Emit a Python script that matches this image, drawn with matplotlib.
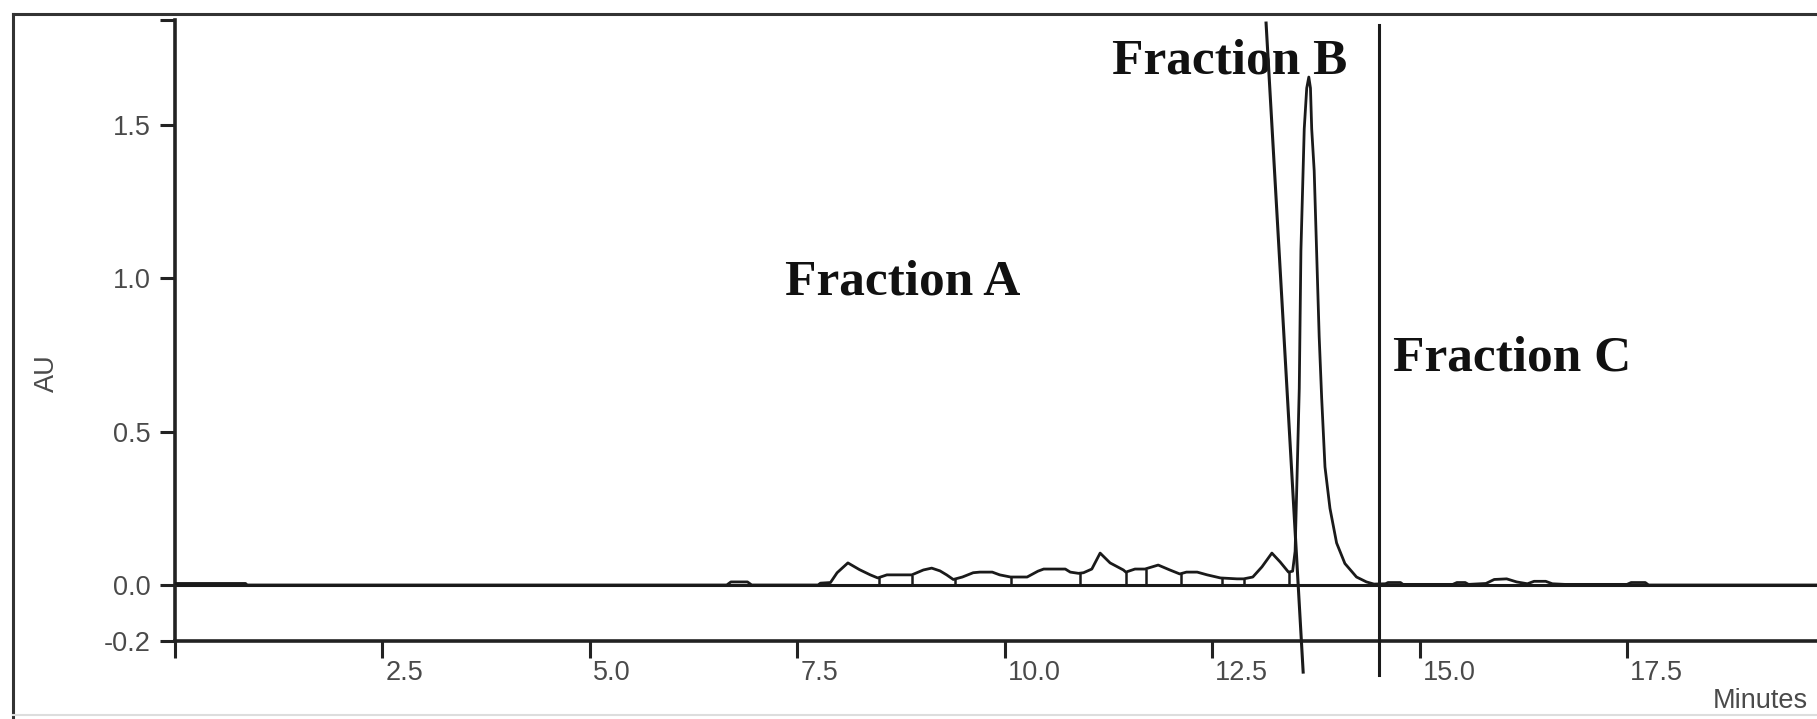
import numpy as np
import matplotlib
matplotlib.use("Agg")
import matplotlib.pyplot as plt
from matplotlib.lines import Line2D
from matplotlib.transforms import ScaledTranslation

# ---------------- data ----------------
time_min = [0.0, 0.85, 0.87, 5.8, 6.65, 6.70, 6.90, 6.95, 7.75, 7.78, 7.90, 7.98, 8.11, 8.25,
            8.38, 8.47, 8.58, 8.88, 9.02, 9.12, 9.22, 9.30, 9.38, 9.49, 9.62, 9.70, 9.85,
            9.94, 10.07, 10.27, 10.40, 10.47, 10.73, 10.79, 10.89, 10.95, 11.05, 11.15, 11.27,
            11.43, 11.46, 11.57, 11.69, 11.85, 11.99, 12.11, 12.19, 12.32, 12.44, 12.60,
            12.80, 12.88, 12.99, 13.10, 13.22, 13.32, 13.42, 13.47, 13.50, 13.52, 13.55,
            13.57, 13.61, 13.64, 13.665, 13.685, 13.70, 13.73, 13.76, 13.79, 13.82, 13.86,
            13.92, 14.00, 14.10, 14.24, 14.36, 14.45, 14.59, 14.62, 14.77, 14.80, 15.40,
            15.45, 15.55, 15.59, 15.80, 15.90, 16.05, 16.17, 16.30, 16.38, 16.52, 16.60,
            16.75, 17.50, 17.55, 17.72, 17.76, 19.8]
absorbance = [0.005, 0.005, 0.0, 0.0, 0.0, 0.010, 0.010, 0.0, 0.0, 0.006, 0.008, 0.040, 0.072, 0.050,
              0.033, 0.023, 0.033, 0.033, 0.049, 0.055, 0.046, 0.033, 0.018, 0.026, 0.040, 0.042, 0.042,
              0.033, 0.026, 0.026, 0.045, 0.052, 0.052, 0.042, 0.038, 0.040, 0.052, 0.104, 0.072,
              0.049, 0.042, 0.052, 0.052, 0.065, 0.049, 0.036, 0.042, 0.042, 0.033, 0.023,
              0.020, 0.020, 0.026, 0.059, 0.104, 0.075, 0.042, 0.045, 0.110, 0.318, 0.640,
              1.090, 1.487, 1.620, 1.656, 1.620, 1.487, 1.350, 1.080, 0.810, 0.610, 0.385,
              0.250, 0.137, 0.070, 0.026, 0.010, 0.003, 0.004, 0.008, 0.008, 0.002, 0.002,
              0.008, 0.008, 0.002, 0.005, 0.018, 0.020, 0.010, 0.004, 0.012, 0.012, 0.004,
              0.002, 0.002, 0.008, 0.008, 0.0, 0.0]

# integration drop lines (retention times)
drop_times = [8.49, 8.88, 9.40, 10.07, 10.91, 11.46, 11.70, 12.13, 12.62, 12.88, 13.43]

# fraction cut markers
cut_b_x = [13.15, 13.597]
cut_b_y = [1.832, -0.284]
cut_c_x = [14.51, 14.51]
cut_c_y = [1.826, -0.294]

x_ticks = [0.0, 2.5, 5.0, 7.5, 10.0, 12.5, 15.0, 17.5]
x_ticklabels = ["", "2.5", "5.0", "7.5", "10.0", "12.5", "15.0", "17.5"]
y_ticks = [-0.1826, 0.0, 0.5, 1.0, 1.5, 1.842]
y_ticklabels = ["-0.2", "0.0", "0.5", "1.0", "1.5", ""]

fractions = ["Fraction A", "Fraction B", "Fraction C"]
frac_x = [7.35, 11.29, 14.68]
frac_y = [0.946, 1.669, 0.698]

# ---------------- figure ----------------
W, H = 1817, 719
fig = plt.figure(figsize=(W / 100, H / 100), dpi=100)
fig.patch.set_facecolor("white")
ax = fig.add_axes([175 / W, 78 / H, (W - 175) / W, 621 / H])
ax.set_xlim(0, 19.79)
ax.set_ylim(-0.1826, 1.842)

line_c = "#1a1a1a"
ax.axhline(0, color=line_c, lw=2.2, zorder=2)
ax.plot(time_min, absorbance, color=line_c, lw=2.0, zorder=3)
drop_h = np.interp(drop_times, time_min, absorbance)
ax.vlines(drop_times, 0, drop_h, color=line_c, lw=1.8, zorder=3)

ax.plot(cut_b_x, cut_b_y, color=line_c, lw=2.2, clip_on=False, zorder=4)
ax.plot(cut_c_x, cut_c_y, color=line_c, lw=2.2, clip_on=False, zorder=4)

for t, x, y in zip(fractions, frac_x, frac_y):
    ax.text(x, y, t, family="Liberation Serif", fontweight="bold", fontsize=37,
            ha="left", va="baseline", color="#111111", zorder=1)

for s in ["top", "right"]:
    ax.spines[s].set_visible(False)
for s in ["left", "bottom"]:
    ax.spines[s].set_linewidth(2.6)
    ax.spines[s].set_color("#222222")

tick_c = "#4a4a4a"
ax.set_yticks(y_ticks)
ax.set_yticklabels(y_ticklabels)
ax.set_xticks(x_ticks)
ax.set_xticklabels(x_ticklabels)
ax.tick_params(axis="y", length=11, width=2.2, color="#222222", pad=6.5,
               labelsize=19.5, labelcolor=tick_c)
ax.tick_params(axis="x", length=12.5, width=2.2, color="#222222", pad=1.0,
               labelsize=19.5, labelcolor=tick_c)
for lab in ax.get_yticklabels() + ax.get_xticklabels():
    lab.set_family("Liberation Sans")
offset = ScaledTranslation(3 / 100, 0, fig.dpi_scale_trans)
for lab in ax.get_xticklabels():
    lab.set_ha("left")
    lab.set_transform(lab.get_transform() + offset)

fig.text(47 / W, 1 - 373 / H, "AU", rotation=90, ha="center", va="center",
         fontsize=19.5, color=tick_c, family="Liberation Sans")
fig.text(1713 / W, 1 - 708 / H, "Minutes", ha="left", va="baseline",
         fontsize=19.5, color=tick_c, family="Liberation Sans")

# outer frame
fig.add_artist(Line2D([13 / W, 13 / W], [0, 1 - 14 / H], transform=fig.transFigure,
                      color="#333333", lw=2.2))
fig.add_artist(Line2D([13 / W, 1.0], [1 - 14 / H, 1 - 14 / H], transform=fig.transFigure,
                      color="#333333", lw=2.2))
fig.add_artist(Line2D([13 / W, 1.0], [1 - 715 / H, 1 - 715 / H], transform=fig.transFigure,
                      color="#dddddd", lw=1.5))

fig.savefig("out.png", dpi=100, facecolor="white")
